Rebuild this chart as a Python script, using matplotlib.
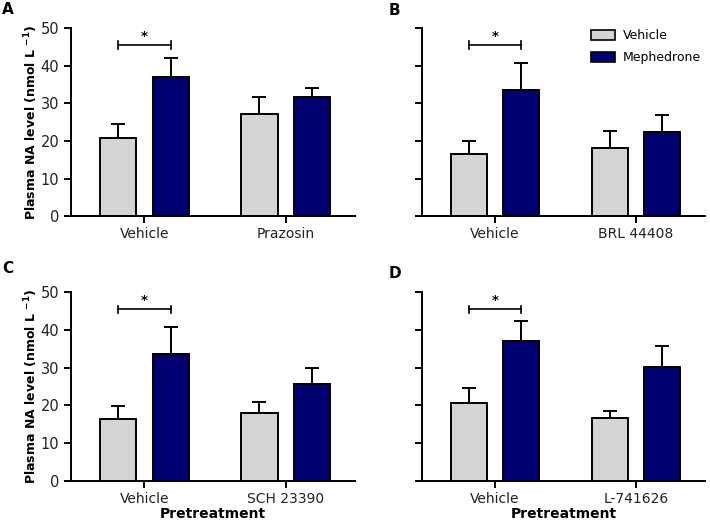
import numpy as np
import matplotlib
matplotlib.use('Agg')
import matplotlib.pyplot as plt
from matplotlib.patches import Patch

# data
panels = ['A', 'B', 'C', 'D']
pretreatments = {
    'A': ['Vehicle', 'Prazosin'],
    'B': ['Vehicle', 'BRL 44408'],
    'C': ['Vehicle', 'SCH 23390'],
    'D': ['Vehicle', 'L-741626'],
}
vehicle_mean = {'A': [20.7, 27.1], 'B': [16.4, 18.0], 'C': [16.4, 18.0], 'D': [20.6, 16.6]}
vehicle_sem = {'A': [3.8, 4.6], 'B': [3.5, 4.7], 'C': [3.5, 3.0], 'D': [4.1, 1.8]}
meph_mean = {'A': [37.1, 31.6], 'B': [33.5, 22.3], 'C': [33.6, 25.6], 'D': [37.2, 30.3]}
meph_sem = {'A': [5.0, 2.6], 'B': [7.2, 4.6], 'C': [7.2, 4.3], 'D': [5.1, 5.5]}
sig_level = 45.5

gray = '#d4d4d4'
navy = '#000070'

plt.rcParams['font.family'] = 'DejaVu Sans'
fig = plt.figure(figsize=(7.1, 5.22), dpi=100)

boxes = {
    'A': [0.100, 0.586, 0.400, 0.360],
    'B': [0.594, 0.586, 0.399, 0.360],
    'C': [0.100, 0.079, 0.400, 0.361],
    'D': [0.594, 0.079, 0.399, 0.361],
}
letter_pos = {'A': (0.003, 0.997), 'B': (0.548, 0.995), 'C': (0.003, 0.500), 'D': (0.548, 0.490)}

width = 0.255
offset = 0.186
x = np.arange(2)

for p in panels:
    ax = fig.add_axes(boxes[p])
    ax.bar(x - offset, vehicle_mean[p], width, color=gray, edgecolor='black',
           linewidth=1.4, zorder=2, label='Vehicle')
    ax.bar(x + offset, meph_mean[p], width, color=navy, edgecolor='black',
           linewidth=1.4, zorder=2, label='Mephedrone')
    ax.errorbar(x - offset, vehicle_mean[p], yerr=[[0, 0], vehicle_sem[p]], fmt='none',
                ecolor='black', elinewidth=1.4, capsize=4.8, capthick=1.4, zorder=1)
    ax.errorbar(x + offset, meph_mean[p], yerr=[[0, 0], meph_sem[p]], fmt='none',
                ecolor='black', elinewidth=1.4, capsize=4.8, capthick=1.4, zorder=1)

    # significance bracket
    ax.plot([-offset, offset], [sig_level, sig_level], color='black', lw=1.2)
    ax.plot([-offset, -offset], [sig_level - 1.0, sig_level + 1.0], color='black', lw=1.2)
    ax.plot([offset, offset], [sig_level - 1.0, sig_level + 1.0], color='black', lw=1.2)
    ax.text(0, sig_level + 0.6, '*', ha='center', va='bottom', fontsize=9.5, fontweight='bold')

    ax.set_xlim(-0.52, 1.49)
    ax.set_ylim(0, 50)
    ax.set_xticks(x)
    ax.set_xticklabels(pretreatments[p], fontsize=10, color='#222222')
    ax.set_yticks([0, 10, 20, 30, 40, 50])
    for s in ['top', 'right']:
        ax.spines[s].set_visible(False)
    for s in ['left', 'bottom']:
        ax.spines[s].set_linewidth(1.4)
    ax.tick_params(axis='both', width=1.4, length=5, labelsize=10.5, labelcolor='#222222')
    ax.tick_params(axis='x', pad=3, labelsize=10)

    if p in ('A', 'C'):
        ax.set_ylabel(r'Plasma NA level (nmol L $^{\mathbf{-1}}$)', fontsize=9,
                      fontweight='bold')
        ax.yaxis.set_label_coords(-0.108, 0.5)
    else:
        ax.set_yticklabels([])
    if p in ('C', 'D'):
        ax.set_xlabel('Pretreatment', fontsize=10, fontweight='bold', labelpad=1)
    if p == 'B':
        handles = [Patch(facecolor=gray, edgecolor='black', linewidth=1.2),
                   Patch(facecolor=navy, edgecolor='black', linewidth=1.2)]
        ax.legend(handles, ['Vehicle', 'Mephedrone'], loc='upper right', frameon=False,
                  fontsize=9, handlelength=1.9, handleheight=0.8, handletextpad=0.6,
                  bbox_to_anchor=(1.025, 1.055), labelspacing=0.75)

    fig.text(letter_pos[p][0], letter_pos[p][1], p, fontsize=11, fontweight='bold',
             ha='left', va='top')

fig.savefig('out.png', dpi=100)
